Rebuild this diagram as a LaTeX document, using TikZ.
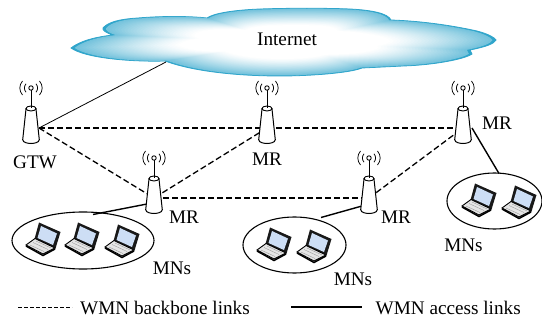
\documentclass[tikz,border=0pt]{standalone}
\usepackage{fontspec}
\usetikzlibrary{shapes.geometric}
\setmainfont{Liberation Serif}
\definecolor{cloudblue}{RGB}{48,165,203}
\definecolor{screenblue}{RGB}{205,222,245}
\newcommand{\cloudpath}{(71,48) .. controls (80,41) and (95,37) .. (113,35)
 .. controls (106,33) and (102,30) .. (103,28)
 .. controls (108,22) and (120,19) .. (138,18)
 .. controls (160,16) and (190,16) .. (207,18)
 .. controls (214,13) and (235,10) .. (260,9)
 .. controls (290,8) and (325,8) .. (350,9)
 .. controls (370,10) and (388,13) .. (391,20)
 .. controls (420,21) and (450,25) .. (477,31)
 .. controls (488,34) and (494,37) .. (496,40)
 .. controls (494,44) and (485,47) .. (470,50)
 -- (472,54)
 .. controls (465,59) and (435,65) .. (403,66)
 -- (362,68)
 .. controls (350,73) and (310,76) .. (280,76)
 .. controls (240,76) and (195,72) .. (165,61)
 .. controls (130,62) and (85,58) .. (71,48) -- cycle}
\tikzset{
 x=1pt,y=-1pt,
 lbl/.style={inner sep=0pt,font=\fontsize{19.2}{19.2}\selectfont},
 backbone/.style={black,line width=1.3pt,dash pattern=on 6pt off 3pt},
 access/.style={black,line width=1.4pt},
 uplink/.style={black,line width=.8pt},
 group/.style={draw=black,line width=1.1pt,fill=white,ellipse,inner sep=0pt},
 pics/router/.style={code={
  \draw[line width=1pt,fill=white] (-5,-19) -- (-8,9) .. controls (-9,13) and (-8,15) .. (0,15.5) .. controls (8,15) and (9,13) .. (8,9) -- (5,-19) -- cycle;
  \draw[line width=.9pt,fill=white] (0,-19.5) ellipse [x radius=5pt,y radius=2.5pt];
  \draw[line width=1pt] (0,-20) -- (0,-38);
  \draw[line width=.9pt,fill=white] (0,-40) circle [radius=2.2pt];
  \foreach \s/\r in {-1/6.5,1/6.5,-1/11,1/11}{
   \draw[line width=.75pt] ({\s*.77*\r},{-40-.64*\r}) .. controls ({\s*1.1*\r},{-40-.25*\r}) and ({\s*1.1*\r},{-40+.25*\r}) .. ({\s*.77*\r},{-40+.64*\r});
  }
 }},
 pics/laptop/.style={code={
  \fill[black!90] (13,0.5) -- (34.5,10) -- (29.5,26.5) -- (8.5,17) -- cycle;
  \fill[screenblue] (15,4) -- (31,11.5) -- (27,23) -- (11.5,16) -- cycle;
  \draw[black,line width=.9pt,fill=black!10] (0,23) -- (9,16.5) -- (29,26) -- (17,32) -- cycle;
  \draw[black,line width=1.5pt] (0,24) -- (17,33.5) -- (29,27);
  \draw[black!45,line width=.3pt] (4,23) -- (18,29.5) (7,20.5) -- (22,27.5) (10,19) -- (25,26);
 }}
}
\begin{document}
\begin{tikzpicture}
\useasboundingbox (0,0) rectangle (542,321);
% cloud
\draw[draw=cloudblue,line width=.8pt,fill=cloudblue] \cloudpath;
\foreach \i in {1,...,30}{
 \pgfmathsetmacro{\sc}{1-0.5*\i/30}
 \pgfmathsetmacro{\p}{100*0.7*(1-\i/30)^1.2}
 \fill[cloudblue!\p!white,scale around={\sc:(285,42)}] \cloudpath;
}
\node[lbl] (inet) at (287,39.5) {Internet};
\coordinate (cloudport) at (166,62);
% anchors
\coordinate (gtw) at (31,128);
\coordinate (mra) at (267,128);
\coordinate (mrb) at (463,128);
\coordinate (mrc) at (154,198);
\coordinate (mrd) at (369,198);
\coordinate (cw) at (147,204);
\coordinate (dw) at (362,206);
\coordinate (be) at (472,128);
\coordinate (etop) at (93,214.5);
\coordinate (ftop) at (321,217.5);
\coordinate (gtop) at (499,173.5);
\coordinate (gport) at (39,128);
% groups
\node[group,minimum width=142pt,minimum height=57pt] (ge) at (83,240.5) {};
\node[group,minimum width=103pt,minimum height=56pt] (gf) at (294.5,245) {};
\node[group,minimum width=95pt,minimum height=56pt] (gg) at (494.5,201) {};
% links
\draw[uplink] (cloudport) -- (gport);
\draw[backbone] (gport) -- (mra);
\draw[backbone] (mra) -- (mrb);
\draw[backbone] (gport) -- (mrc);
\draw[backbone] (mra) -- (mrc);
\draw[backbone] (mrc) -- (mrd);
\draw[backbone] (mrd) -- (mrb);
\draw[access] (cw) -- (etop);
\draw[access] (dw) -- (ftop);
\draw[access] (be) -- (gtop);
% routers
\pic at (gtw) {router};
\pic at (mra) {router};
\pic at (mrb) {router};
\pic at (mrc) {router};
\pic at (mrd) {router};
% laptops
\pic at (26,222) {laptop};
\pic at (65,222) {laptop};
\pic at (105,224) {laptop};
\pic at (257,227) {laptop};
\pic at (297,229) {laptop};
\pic at (462,183) {laptop};
\pic at (502,185) {laptop};
% labels
\node[lbl] (lgtw) at (35,162) {GTW};
\node[lbl] (la) at (267,159) {MR};
\node[lbl] (lb) at (497,123) {MR};
\node[lbl] (lc) at (184,217) {MR};
\node[lbl] (ld) at (396,217) {MR};
\node[lbl] (na) at (172,268) {MNs};
\node[lbl] (nb) at (353,279) {MNs};
\node[lbl] (nc) at (463.5,245) {MNs};
% legend
\coordinate (la1) at (18,307);
\coordinate (la2) at (72,307);
\coordinate (lb1) at (291,307);
\coordinate (lb2) at (362,307);
\draw[black,line width=1pt,dash pattern=on 4pt off 2pt] (la1) -- (la2);
\draw[black,line width=1.1pt] (lb1) -- (lb2);
\node[lbl,anchor=west] (ta) at (80,307.5) {WMN backbone links};
\node[lbl,anchor=west] (tb) at (375.5,307.5) {WMN access links};
\end{tikzpicture}
\end{document}
